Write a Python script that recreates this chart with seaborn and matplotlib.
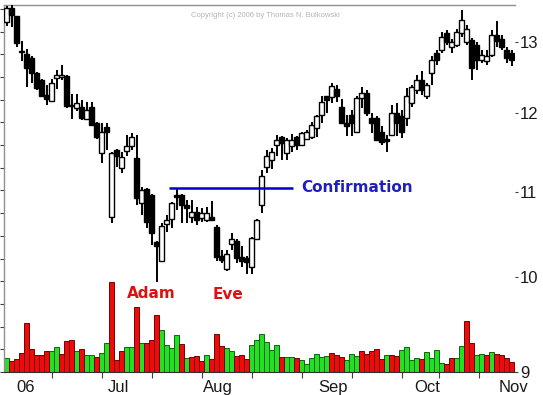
import numpy as np
import pandas as pd
import matplotlib
matplotlib.use("Agg")
import matplotlib.pyplot as plt
from matplotlib.ticker import NullLocator
import seaborn as sns

# daily bars, June - end of October 2006
opens = [13.29, 13.50, 13.37, 12.87, 12.82, 12.76, 12.56, 12.45, 12.25, 12.17,
         12.48, 12.50, 12.51, 12.12, 12.08, 12.09, 11.93, 12.09, 11.87, 11.48,
         11.82, 10.70, 11.52, 11.30, 11.51, 11.58, 11.42, 10.86, 11.03, 10.96,
         10.40, 10.18, 10.61, 10.67, 10.96, 10.96, 10.84, 10.70, 10.75, 10.68,
         10.66, 10.69, 10.58, 10.24, 10.09, 10.38, 10.41, 10.23, 10.22, 10.12,
         10.44, 10.84, 11.31, 11.40, 11.59, 11.69, 11.48, 11.57, 11.69, 11.59,
         11.67, 11.69, 11.81, 11.98, 12.23, 12.22, 12.33, 12.09, 11.87, 11.98,
         11.76, 12.21, 12.28, 11.94, 11.94, 11.76, 11.66, 11.72, 12.01, 11.96,
         11.94, 12.14, 12.32, 12.46, 12.23, 12.55, 12.83, 12.88, 13.12, 12.92,
         12.95, 13.12, 13.00, 13.02, 12.95, 12.74, 12.72, 12.81, 13.10, 13.03,
         12.88, 12.83]
highs = [13.52, 13.54, 13.38, 13.01, 12.89, 12.80, 12.57, 12.47, 12.39, 12.47,
         12.60, 12.66, 12.52, 12.27, 12.26, 12.18, 12.16, 12.16, 11.89, 11.87,
         11.88, 11.50, 11.53, 11.50, 11.71, 11.74, 11.71, 11.06, 11.05, 10.97,
         10.41, 10.62, 10.72, 10.87, 11.05, 10.97, 10.90, 10.90, 10.82, 10.80,
         10.82, 10.89, 10.60, 10.31, 10.31, 10.50, 10.44, 10.35, 10.24, 10.46,
         10.67, 11.27, 11.52, 11.55, 11.72, 11.70, 11.68, 11.73, 11.70, 11.76,
         11.78, 11.89, 11.98, 12.23, 12.23, 12.42, 12.38, 12.20, 11.98, 12.05,
         12.23, 12.36, 12.32, 12.01, 11.96, 11.83, 11.72, 12.12, 12.14, 12.05,
         12.35, 12.39, 12.53, 12.58, 12.42, 12.79, 12.88, 13.14, 13.17, 13.03,
         13.19, 13.47, 13.24, 13.05, 12.99, 12.88, 12.88, 13.17, 13.30, 13.10,
         12.92, 12.88]
lows = [13.23, 13.21, 12.92, 12.72, 12.36, 12.41, 12.32, 12.22, 12.12, 12.16,
        12.33, 12.46, 12.08, 11.93, 12.04, 11.92, 11.91, 11.83, 11.66, 11.36,
        11.52, 10.62, 11.31, 11.23, 11.45, 11.52, 10.84, 10.72, 10.56, 10.37,
        9.95, 10.17, 10.52, 10.57, 10.78, 10.62, 10.62, 10.62, 10.60, 10.63,
        10.64, 10.66, 10.18, 10.16, 10.07, 10.31, 10.16, 10.12, 10.04, 10.04,
        10.43, 10.74, 11.23, 11.28, 11.44, 11.40, 11.40, 11.50, 11.52, 11.59,
        11.65, 11.67, 11.69, 11.87, 12.01, 12.14, 12.16, 11.88, 11.70, 11.70,
        11.74, 12.08, 11.96, 11.74, 11.65, 11.59, 11.50, 11.70, 11.70, 11.68,
        11.83, 12.09, 12.27, 12.25, 12.19, 12.39, 12.67, 12.83, 12.95, 12.83,
        12.92, 13.07, 12.95, 12.45, 12.60, 12.70, 12.67, 12.78, 12.92, 12.88,
        12.70, 12.65]
closes = [13.50, 13.39, 12.98, 12.85, 12.62, 12.55, 12.34, 12.23, 12.20, 12.41,
          12.53, 12.53, 12.10, 12.10, 12.14, 11.94, 12.05, 11.85, 11.69, 11.76,
          11.76, 11.48, 11.44, 11.43, 11.58, 11.69, 10.92, 11.02, 10.64, 10.50,
          10.35, 10.59, 10.66, 10.86, 10.94, 10.84, 10.80, 10.76, 10.66, 10.74,
          10.74, 10.66, 10.23, 10.20, 10.26, 10.44, 10.22, 10.18, 10.17, 10.45,
          10.66, 11.19, 11.45, 11.50, 11.65, 11.61, 11.65, 11.65, 11.59, 11.74,
          11.76, 11.85, 11.96, 12.16, 12.18, 12.37, 12.23, 11.88, 11.83, 11.87,
          12.21, 12.28, 12.01, 11.88, 11.65, 11.63, 11.64, 12.01, 11.87, 11.76,
          12.23, 12.36, 12.46, 12.32, 12.39, 12.74, 12.74, 13.07, 12.99, 12.99,
          13.14, 13.32, 13.19, 12.63, 12.74, 12.81, 12.79, 13.10, 13.01, 12.92,
          12.77, 12.74]

# volume (thousands of shares, unlabelled on the chart)
volume = [137, 110, 127, 187, 487, 227, 167, 167, 207, 207,
          247, 177, 307, 317, 207, 227, 167, 167, 150, 187,
          287, 897, 117, 207, 247, 247, 647, 287, 287, 317,
          567, 417, 267, 237, 367, 277, 137, 147, 157, 107,
          167, 127, 377, 257, 237, 207, 157, 167, 127, 267,
          317, 377, 297, 217, 267, 147, 147, 147, 137, 117,
          77, 137, 177, 147, 157, 187, 167, 147, 117, 177,
          157, 207, 177, 207, 227, 127, 167, 167, 157, 217,
          247, 117, 137, 127, 197, 137, 217, 87, 77, 137,
          137, 257, 507, 287, 167, 177, 167, 197, 177, 167,
          137, 97]
# g = up day volume, r = down day volume
vol_dir = list("grrrrrrrrggrrrgrggrggrrrggrgrrrggggrgrrrgrrrggrrrgggg"
               "ggrggrggggggrrrgggrrrrrgrrggggrggggrrggrrggrgrrrr")

month_labels = ["06", "Jul", "Aug", "Sep", "Oct", "Nov"]
month_label_pos = [3.9, 22.3, 42.3, 65.3, 84.1, 101.3]
tick_pos = [9, 19, 29, 39, 49, 59, 69, 79, 86.5, 94.5]
price_ticks = [9, 10, 11, 12, 13]

conf_level = 11.05
conf_start, conf_end = 32.5, 57.3

df = pd.DataFrame({"open": opens, "high": highs, "low": lows, "close": closes,
                   "volume": volume, "dir": vol_dir})
df["day"] = np.arange(len(df))

sns.set_theme(style="white")
plt.rcParams['font.family'] = ['Liberation Sans', 'DejaVu Sans']

fig = plt.figure(figsize=(5.43, 3.95), dpi=100)
ax = fig.add_axes([4 / 543, 23 / 395, 511 / 543, 367 / 395])

# volume histogram along the bottom
sns.barplot(data=df, x="day", y="volume", hue="dir",
            palette={"g": "#22e022", "r": "#f00a0a"}, native_scale=True,
            width=1.0, dodge=False, legend=False, errorbar=None,
            saturation=1, linewidth=0.7, ax=ax)
for p in ax.patches:
    fc = p.get_facecolor()
    p.set_edgecolor((fc[0] * 0.45, fc[1] * 0.45, fc[2] * 0.45, 1))

ax.set_ylim(0, 3670)
ax.set_yticks(np.arange(0, 3670, 227))
ax.set_xlim(-0.5, 101.7)
ax.set_xlabel("")
ax.set_ylabel("")
ax.set_xticks(tick_pos)
ax.set_xticklabels([""] * len(tick_pos))
ax.set_xticks(month_label_pos, minor=True)
ax.set_xticklabels(month_labels, minor=True)
ax.tick_params(axis='x', which='major', bottom=True, length=4, width=0.8,
               color='#404040', direction='out')
ax.tick_params(axis='x', which='minor', bottom=True, length=0, labelsize=12,
               pad=6, labelcolor='#1a1a1a')
ax.tick_params(axis='y', which='major', left=True, length=3, width=0.8,
               color='#404040', labelleft=False, direction='out')
for side in ['left', 'top']:
    ax.spines[side].set_color('#909090')
    ax.spines[side].set_linewidth(1.0)
ax.spines['bottom'].set_color('#303030')
ax.spines['bottom'].set_linewidth(0.8)
ax.spines['right'].set_visible(False)

# candlesticks on a log price scale
ax2 = ax.twinx()
ax2.set_yscale('log')
ax2.vlines(df["day"], df["low"], df["high"], color='black', lw=1.4, zorder=2)
up = df["close"] >= df["open"]
body_lo = np.minimum(df["open"], df["close"])
body_h = (df["close"] - df["open"]).abs().clip(lower=0.012)
ax2.bar(df["day"], body_h, bottom=body_lo, width=0.85,
        color=np.where(up, 'white', 'black'), edgecolor='black',
        linewidth=1.0, zorder=3)
ax2.set_ylim(9, 13.54)
ax2.set_yticks(price_ticks)
ax2.set_yticklabels([str(t) for t in price_ticks])
ax2.yaxis.set_minor_locator(NullLocator())
ax2.tick_params(axis='y', which='major', right=True, length=2, width=0.8,
                color='#404040', labelsize=12, pad=1.5, labelcolor='#1a1a1a')
for s in ax2.spines.values():
    s.set_visible(False)
ax2.set_xlim(-0.5, 101.7)

# confirmation line and labels
ax2.hlines(conf_level, conf_start, conf_end, color='#0000cc', lw=1.8, zorder=4)
ax2.text(58.9, conf_level, "Confirmation", color='#1f1fc0', fontsize=11,
         fontweight='bold', family='DejaVu Sans', ha='left', va='center')
ax2.text(28.9, 9.82, "Adam", color='#e01010', fontsize=11,
         fontweight='bold', family='DejaVu Sans', ha='center', va='center')
ax2.text(44.3, 9.81, "Eve", color='#e01010', fontsize=11,
         fontweight='bold', family='DejaVu Sans', ha='center', va='center')

fig.text(0.488, 0.96, "Copyright (c) 2006 by Thomas N. Bulkowski",
         fontsize=5.5, color='#b4b4b4', ha='center', va='center')

fig.savefig("out.png", dpi=100)
